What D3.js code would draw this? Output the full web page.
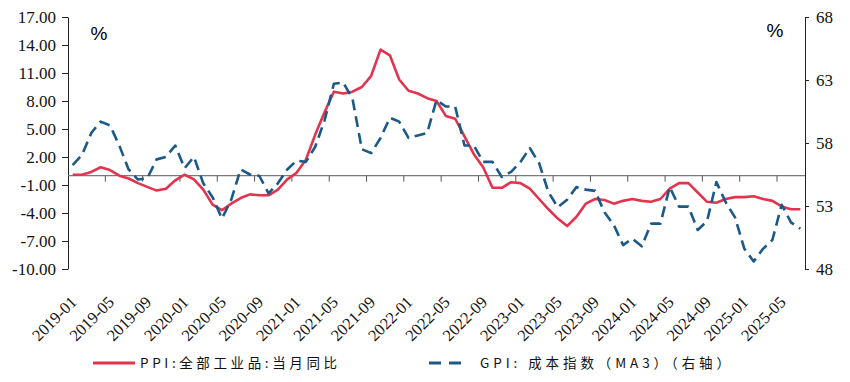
<!DOCTYPE html>
<html>
<head>
<meta charset="utf-8">
<script src="https://cdn.jsdelivr.net/npm/d3@7"></script>
<style>
  html, body { margin: 0; padding: 0; background: #fff; }
  svg { display: block; }
  .serif { font-family: "Liberation Serif", "Times New Roman", "DejaVu Serif", serif; }
</style>
</head>
<body>
<div id="chart"></div>
<script>
// ---------- data ----------
const months = [];
for (let y = 2019; y <= 2025; y++) {
  for (let m = 1; m <= 12; m++) {
    if (y === 2025 && m > 7) break;
    months.push(y + "-" + String(m).padStart(2, "0"));
  }
}

const ppi = [
  0.1, 0.1, 0.4, 0.9, 0.6, 0.0, -0.3, -0.8, -1.2, -1.6, -1.4, -0.5,
  0.1, -0.4, -1.5, -3.1, -3.7, -3.0, -2.4, -2.0, -2.1, -2.1, -1.5, -0.4,
  0.3, 1.7, 4.4, 6.8, 9.0, 8.8, 9.0, 9.5, 10.7, 13.5, 12.9, 10.3,
  9.1, 8.8, 8.3, 8.0, 6.4, 6.1, 4.2, 2.3, 0.9, -1.3, -1.3, -0.7,
  -0.8, -1.4, -2.5, -3.6, -4.6, -5.4, -4.4, -3.0, -2.5, -2.6, -3.0, -2.7,
  -2.5, -2.7, -2.8, -2.5, -1.4, -0.8, -0.8, -1.8, -2.8, -2.9, -2.5, -2.3,
  -2.3, -2.2, -2.5, -2.7, -3.3, -3.6, -3.6
];

const gpi = [
  56.25, 57.05, 58.8, 59.7, 59.4, 57.8, 55.9, 55.1, 55.2, 56.7, 56.9, 57.8,
  56.0, 56.9, 54.8, 53.7, 52.0, 53.5, 55.9, 55.5, 55.4, 54.0, 54.8, 55.9,
  56.6, 56.5, 57.7, 59.8, 62.7, 62.8, 61.5, 57.5, 57.2, 58.4, 60.0, 59.7,
  58.4, 58.6, 58.8, 61.4, 60.9, 60.9, 57.8, 57.8, 56.5, 56.5, 55.3, 55.7,
  56.5, 57.6, 56.4, 54.1, 52.9, 53.5, 54.5, 54.3, 54.2, 52.5, 51.5, 49.9,
  50.4, 49.8, 51.6, 51.6, 54.5, 52.95, 52.95, 51.1, 51.8, 54.9, 53.3, 52.1,
  49.6, 48.6, 49.6, 50.3, 53.1, 51.7, 51.2
];

const leftTicks = [-10, -7, -4, -1, 2, 5, 8, 11, 14, 17];
const rightTicks = [48, 53, 58, 63, 68];
const xLabels = months.filter((d, i) => i % 4 === 0);
const seriesNames = ["PPI:全部工业品:当月同比", "GPI: 成本指数（MA3）（右轴）"];

// ---------- layout ----------
const W = 850, H = 382;
const L = 68, R = 805, T = 17, B = 269;
const red = "#E2334F", blue = "#1B5A87";

const svg = d3.select("#chart").append("svg")
  .attr("width", W).attr("height", H);

const x = d3.scaleBand().domain(months).range([L, R]).padding(0);
const bw = x.bandwidth();
const xc = d => x(d) + bw / 2;
const yL = d3.scaleLinear().domain([-10, 17]).range([B, T]);
const yR = d3.scaleLinear().domain([48, 68]).range([B, T]);

// left axis
const gL = svg.append("g").attr("transform", `translate(${L},0)`)
  .call(d3.axisLeft(yL).tickValues(leftTicks).tickSize(6).tickSizeOuter(0).tickPadding(6)
    .tickFormat(d => d.toFixed(2)));
gL.attr("font-family", null).attr("font-size", null);
gL.selectAll("text").attr("class", "serif").style("font-size", "17px").attr("fill", "#111");
gL.selectAll("line, path").attr("stroke", "#222");

// right axis
const gR = svg.append("g").attr("transform", `translate(${R},0)`)
  .call(d3.axisRight(yR).tickValues(rightTicks).tickSize(4).tickSizeOuter(0).tickPadding(7)
    .tickFormat(d3.format("d")));
gR.attr("font-family", null).attr("font-size", null);
gR.selectAll("text").attr("class", "serif").style("font-size", "17px").attr("fill", "#111");
gR.selectAll("line, path").attr("stroke", "#222");

// zero line with ticks between category groups
const y0 = yL(0);
svg.append("line").attr("x1", L).attr("x2", R).attr("y1", y0).attr("y2", y0)
  .attr("stroke", "#7a7a7a").attr("stroke-width", 1.3);
svg.append("g").selectAll("line")
  .data(months.filter((d, i) => i > 0 && i % 4 === 0))
  .join("line")
  .attr("x1", d => x(d)).attr("x2", d => x(d))
  .attr("y1", y0).attr("y2", y0 + 6)
  .attr("stroke", "#555").attr("stroke-width", 1);

// x labels (rotated)
svg.append("g").selectAll("text")
  .data(xLabels)
  .join("text")
  .attr("class", "serif")
  .attr("transform", d => `translate(${xc(d) + 1},${299}) rotate(-45)`)
  .attr("text-anchor", "end")
  .attr("dy", "0.35em")
  .style("font-size", "16.5px")
  .attr("fill", "#111")
  .text(d => d);

// % units
svg.append("text").attr("x", 99).attr("y", 40).attr("text-anchor", "middle")
  .style("font-family", "'Liberation Sans', Arial, sans-serif").style("font-size", "19px")
  .text("%");
svg.append("text").attr("x", 775).attr("y", 37).attr("text-anchor", "middle")
  .style("font-family", "'Liberation Sans', Arial, sans-serif").style("font-size", "19px")
  .text("%");

// lines
const lineL = d3.line().x((d, i) => xc(months[i])).y(d => yL(d));
const lineR = d3.line().x((d, i) => xc(months[i])).y(d => yR(d));

svg.append("path").datum(ppi).attr("d", lineL)
  .attr("fill", "none").attr("stroke", red).attr("stroke-width", 2.6)
  .attr("stroke-linejoin", "round");
svg.append("path").datum(gpi).attr("d", lineR)
  .attr("fill", "none").attr("stroke", blue).attr("stroke-width", 2.6)
  .attr("stroke-dasharray", "11,6").attr("stroke-linejoin", "round");

// legend
const ly = 363;
const cjk = "'Noto Sans CJK SC', 'Noto Sans', sans-serif";
svg.append("line").attr("x1", 93).attr("x2", 135).attr("y1", ly).attr("y2", ly)
  .attr("stroke", red).attr("stroke-width", 3);
svg.append("text").attr("x", 140).attr("y", ly).attr("dy", "0.36em")
  .style("font-family", cjk).style("font-size", "13.5px").attr("fill", "#111")
  .attr("textLength", 197).attr("lengthAdjust", "spacing")
  .text(seriesNames[0]);
svg.append("line").attr("x1", 429).attr("x2", 463).attr("y1", ly).attr("y2", ly)
  .attr("stroke", blue).attr("stroke-width", 3).attr("stroke-dasharray", "12,8");
svg.append("text").attr("x", 480).attr("y", ly).attr("dy", "0.36em")
  .style("font-family", cjk).style("font-size", "13.5px").attr("fill", "#111")
  .attr("textLength", 250).attr("lengthAdjust", "spacing")
  .text(seriesNames[1]);
</script>
</body>
</html>
